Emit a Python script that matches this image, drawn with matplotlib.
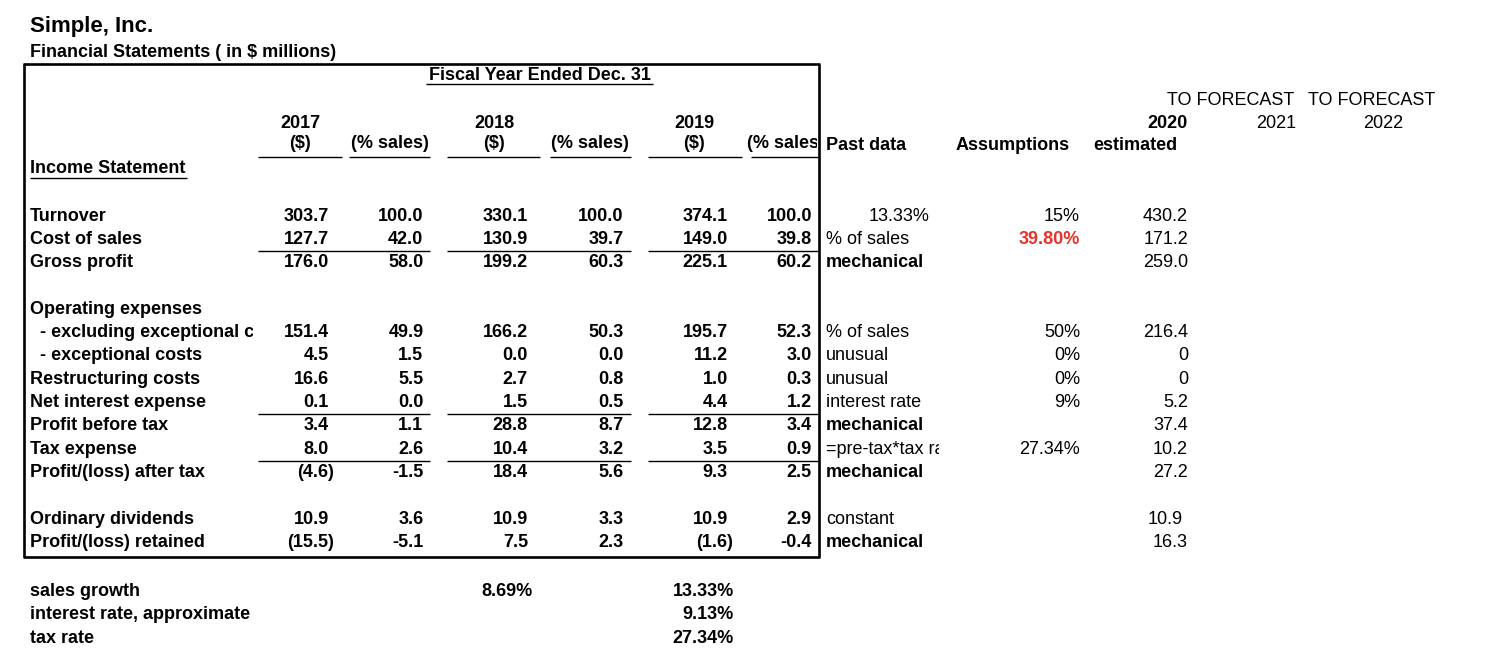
import matplotlib
matplotlib.use("Agg")
import matplotlib.pyplot as plt
from matplotlib.transforms import Bbox, TransformedBbox

plt.rcParams['font.family'] = ['Liberation Sans', 'DejaVu Sans']

# ---------------- data ----------------
title = "Simple, Inc."
subtitle = "Financial Statements ( in $ millions)"
period_header = "Fiscal Year Ended Dec. 31"
years = ["2017", "2018", "2019"]

labels = ["Turnover", "Cost of sales", "Gross profit", "Operating expenses",
          "  - excluding exceptional costs", "  - exceptional costs",
          "Restructuring costs", "Net interest expense", "Profit before tax",
          "Tax expense", "Profit/(loss) after tax", "Ordinary dividends",
          "Profit/(loss) retained"]

v2017 = [303.7, 127.7, 176.0, None, 151.4, 4.5, 16.6, 0.1, 3.4, 8.0, -4.6, 10.9, -15.5]
p2017 = [100.0, 42.0, 58.0, None, 49.9, 1.5, 5.5, 0.0, 1.1, 2.6, -1.5, 3.6, -5.1]
v2018 = [330.1, 130.9, 199.2, None, 166.2, 0.0, 2.7, 1.5, 28.8, 10.4, 18.4, 10.9, 7.5]
p2018 = [100.0, 39.7, 60.3, None, 50.3, 0.0, 0.8, 0.5, 8.7, 3.2, 5.6, 3.3, 2.3]
v2019 = [374.1, 149.0, 225.1, None, 195.7, 11.2, 1.0, 4.4, 12.8, 3.5, 9.3, 10.9, -1.6]
p2019 = [100.0, 39.8, 60.2, None, 52.3, 3.0, 0.3, 1.2, 3.4, 0.9, 2.5, 2.9, -0.4]

past_notes = ["13.33%", "% of sales", "mechanical", None, "% of sales", "unusual",
              "unusual", "interest rate", "mechanical", "=pre-tax*tax rate",
              "mechanical", "constant", "mechanical"]
assumptions = ["15%", "39.80%", None, None, "50%", "0%", "0%", "9%", None,
               "27.34%", None, None, None]
est2020 = ["430.2", "171.2", "259.0", None, "216.4", "0", "0", "5.2", "37.4",
           "10.2", "27.2", "10.9", "16.3"]

ratio_labels = ["sales growth", "interest rate, approximate", "tax rate"]
ratio_2018 = ["8.69%", None, None]
ratio_2019 = ["13.33%", "9.13%", "27.34%"]

forecast_years = ["2020", "2021", "2022"]

# ---------------- layout ----------------
W, H = 1506, 658
fig = plt.figure(figsize=(W / 100, H / 100), dpi=100)
ax = fig.add_axes([0, 0, 1, 1])
ax.set_xlim(0, W)
ax.set_ylim(H, 0)
ax.axis('off')

FS = 13
RED = '#e8322a'


def txt(x, y, s, ha='left', bold=True, color='black', size=FS, clip=None):
    t = ax.text(x, y, s, ha=ha, va='baseline', fontsize=size,
                fontweight='bold' if bold else 'normal', color=color)
    if clip is not None:
        x0, y0, x1, y1 = clip
        bb = TransformedBbox(Bbox([[x0, min(y0, y1)], [x1, max(y0, y1)]]),
                             ax.transData)
        t.set_clip_path(None)
        t.set_clip_box(bb)
        t.set_clip_on(True)
    return t


def hline(x0, x1, y, lw=1.0):
    ax.plot([x0, x1], [y, y], color='black', lw=lw, solid_capstyle='butt')


def vline(x, y0, y1, lw=1.0):
    ax.plot([x, x], [y0, y1], color='black', lw=lw, solid_capstyle='butt')


# titles
txt(30, 32, title, size=16)
txt(30, 56.7, subtitle)

# outer box
BOX_L, BOX_R, BOX_T, BOX_B = 24, 819.5, 63.5, 556.5
hline(BOX_L - 1, BOX_R + 1, BOX_T, lw=1.9)
hline(BOX_L - 1, BOX_R + 1, BOX_B, lw=1.9)
vline(BOX_L, BOX_T, BOX_B, lw=1.9)
vline(BOX_R, BOX_T, BOX_B, lw=1.9)

# period header
txt(539.5, 80, period_header, ha='center')
hline(426, 653, 84)

# column headers
YEAR_Y, UNIT_Y = 128.5, 148.5
year_centers = [300, 494, 694]
for yr, xc in zip(years, year_centers):
    txt(xc, YEAR_Y, yr, ha='center')
    txt(xc, UNIT_Y, "($)", ha='center')
txt(429, UNIT_Y, "(% sales)", ha='right')
txt(629, UNIT_Y, "(% sales)", ha='right')
txt(747, UNIT_Y, "(% sales)", clip=(740, 130, 817.5, 160))

# header underlines
for x0, x1 in [(258, 342), (349, 430), (447, 540), (550, 631), (648, 742), (751, 818)]:
    hline(x0, x1, 157)

txt(30, 173.3, "Income Statement")
hline(30, 187, 178.3)

# right-hand headers
txt(826, 150, "Past data")
txt(956, 150, "Assumptions")
txt(1177, 150, "estimated", ha='right')
txt(1188, 128.5, forecast_years[0], ha='right')
txt(1276, 128.5, forecast_years[1], ha='center', bold=False)
txt(1383, 128.5, forecast_years[2], ha='center', bold=False)
txt(1167, 105, "TO FORECAST", bold=False)
txt(1308, 105, "TO FORECAST", bold=False)

# body rows
slots = [0, 1, 2, 4, 5, 6, 7, 8, 9, 10, 11, 13, 14]
BASE0, STEP = 220.7, 23.3


def fmt_dollar(v):
    return f"({abs(v):.1f})" if v < 0 else f"{v:.1f}"


dollar_cols = [(v2017, 329), (v2018, 528), (v2019, 728)]
pct_cols = [(p2017, 423.5), (p2018, 623.5), (p2019, 812)]

for i, lab in enumerate(labels):
    y = BASE0 + STEP * slots[i]
    if "excluding" in lab:
        txt(30, y, lab, clip=(25, y - 20, 253, y + 8))
    else:
        txt(30, y, lab)
    for vals, xr in dollar_cols:
        v = vals[i]
        if v is None:
            continue
        txt(xr + (5.5 if v < 0 else 0), y, fmt_dollar(v), ha='right')
    for vals, xr in pct_cols:
        v = vals[i]
        if v is None:
            continue
        txt(xr, y, f"{v:.1f}", ha='right')
    note = past_notes[i]
    if note is not None:
        if note.endswith('%'):
            txt(930, y, note, ha='right', bold=False)
        elif note == "mechanical":
            txt(826, y, note)
        else:
            txt(826, y, note, bold=False, clip=(822, y - 20, 939, y + 8))
    a = assumptions[i]
    if a is not None:
        red = (i == 1)
        txt(1080, y, a, ha='right', bold=red, color=RED if red else 'black')
    e = est2020[i]
    if e is not None:
        xr = 1183 if labels[i] == "Ordinary dividends" else 1188
        txt(xr, y, e, ha='right', bold=False)

# subtotal underlines (under Cost of sales, Net interest expense, Tax expense)
for i in [1, 7, 9]:
    y = BASE0 + STEP * slots[i] + 7
    for x0, x1 in [(258, 430), (447, 631), (648, 818)]:
        hline(x0, x1, y)

# ratios below the box
ratio_base = [596, 619.3, 642.6]
for lab, r18, r19, y in zip(ratio_labels, ratio_2018, ratio_2019, ratio_base):
    txt(30, y, lab)
    if r18 is not None:
        txt(533, y, r18, ha='right')
    if r19 is not None:
        txt(734, y, r19, ha='right')

fig.savefig("out.png", dpi=100, facecolor='white')
